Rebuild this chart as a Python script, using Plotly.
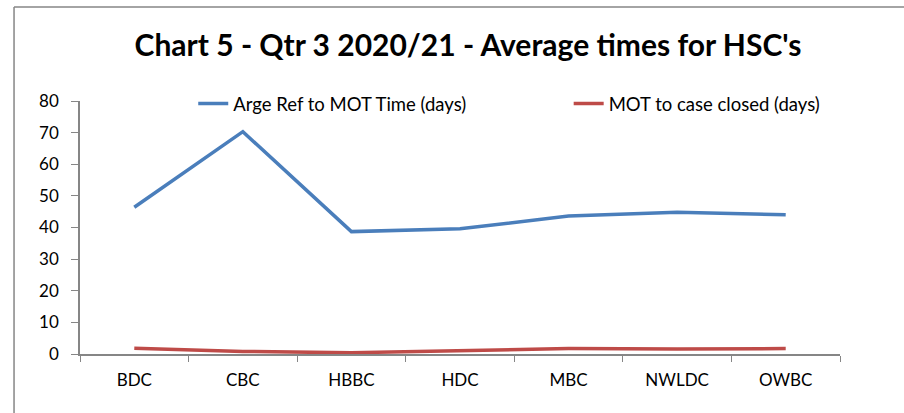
import plotly.graph_objects as go

categories = ["BDC", "CBC", "HBBC", "HDC", "MBC", "NWLDC", "OWBC"]
ref_to_mot = [46.4, 70.3, 38.7, 39.6, 43.6, 44.8, 44.0]
mot_to_closed = [1.8, 0.8, 0.4, 1.1, 1.7, 1.6, 1.7]
series_names = ["Arge Ref to MOT Time (days)", "MOT to case closed (days)"]
y_ticks = [0, 10, 20, 30, 40, 50, 60, 70, 80]

FONT = "Lato"

fig = go.Figure()
fig.add_trace(go.Scatter(x=categories, y=ref_to_mot, mode="lines", name=series_names[0],
                         line=dict(color="#4A7EBB", width=3.5), legend="legend"))
fig.add_trace(go.Scatter(x=categories, y=mot_to_closed, mode="lines", name=series_names[1],
                         line=dict(color="#BE4B48", width=3.5), legend="legend2"))

leg_common = dict(orientation="h", yanchor="middle", xanchor="left",
                  font=dict(family=FONT, size=18.5, color="black"),
                  bgcolor="rgba(0,0,0,0)")
fig.update_layout(
    width=904, height=413,
    margin=dict(l=80, r=64, t=101, b=59),
    paper_bgcolor="white", plot_bgcolor="white",
    font=dict(family=FONT, size=17, color="black"),
    title=dict(text="<b>Chart 5 - Qtr 3 2020/21 - Average times for HSC's</b>",
               x=0.5177, xanchor="center", y=0.891, yanchor="middle",
               font=dict(family=FONT, size=30, color="black")),
    legend=dict(x=0.149, y=0.988, **leg_common),
    legend2=dict(x=0.643, y=0.988, **leg_common),
    showlegend=True,
)
fig.update_xaxes(type="category", range=[-0.5, 6.5], showline=True, linecolor="#868686",
                 linewidth=1.5, ticks="outside", tickson="boundaries", ticklen=6,
                 tickcolor="#868686", showgrid=False, zeroline=False, automargin=False,
                 ticklabelstandoff=10,
                 tickfont=dict(family=FONT, size=17, color="black"))
fig.update_yaxes(range=[0, 80], tickvals=y_ticks, showline=True, linecolor="#868686",
                 linewidth=1.5, ticks="outside", ticklen=7, tickcolor="#868686",
                 showgrid=False, zeroline=False, automargin=False,
                 ticklabelstandoff=9,
                 tickfont=dict(family=FONT, size=17, color="black"))

fig.add_shape(type="line", xref="paper", yref="paper", x0=-0.0868, x1=1.2, y0=1.3715, y1=1.3715,
              line=dict(color="#868686", width=1.5))
fig.add_shape(type="line", xref="paper", yref="paper", x0=-0.0868, x1=-0.0868, y0=-0.5, y1=1.3715,
              line=dict(color="#868686", width=1.5))

fig.write_html("out.html", config={"displayModeBar": False},
               post_script="document.body.style.margin='0';")
